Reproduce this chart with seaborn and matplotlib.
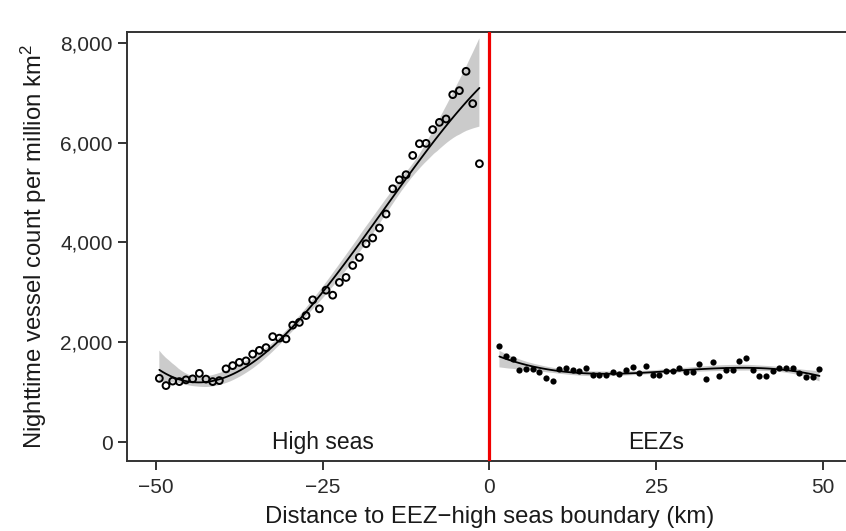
import numpy as np
import pandas as pd
import matplotlib
matplotlib.use('Agg')
import matplotlib.pyplot as plt
import seaborn as sns
from matplotlib.collections import PolyCollection
from matplotlib.ticker import FuncFormatter

# Centres des classes de distance (km), de part et d'autre de la frontière
high_km = np.arange(-49.5, -1.0, 1.0)
eez_km = np.arange(1.5, 50.0, 1.0)

# Comptages nocturnes (par million de km2)
high_counts = [1280, 1135, 1225, 1215, 1250, 1270, 1380, 1265, 1215, 1235,
               1470, 1535, 1600, 1630, 1765, 1840, 1895, 2115, 2085, 2070,
               2345, 2400, 2537, 2852, 2672, 3045, 2945, 3200, 3300, 3540,
               3700, 3975, 4090, 4290, 4570, 5075, 5255, 5357, 5743, 5978,
               5985, 6260, 6405, 6473, 6960, 7040, 7427, 6780, 5577]
eez_counts = [1930, 1736, 1663, 1449, 1469, 1469, 1415, 1295, 1228, 1469,
              1496, 1449, 1435, 1496, 1349, 1349, 1349, 1402, 1362, 1449,
              1502, 1395, 1536, 1349, 1349, 1429, 1429, 1496, 1415, 1415,
              1569, 1262, 1603, 1335, 1449, 1449, 1629, 1696, 1449, 1335,
              1335, 1435, 1496, 1482, 1482, 1395, 1315, 1315, 1462]

zone_labels = ['High seas', 'EEZs']
zone_label_x = [-25, 25]

high_df = pd.DataFrame({'distance': high_km, 'count': high_counts})
eez_df = pd.DataFrame({'distance': eez_km, 'count': eez_counts})

sns.set_theme(style='ticks')
plt.rcParams['font.family'] = ['Liberation Sans', 'DejaVu Sans']
plt.rcParams['mathtext.default'] = 'regular'

fig = plt.figure(figsize=(8.46, 5.31), dpi=100)
ax = fig.add_axes([0.1505, 0.1318, 0.856, 0.8085])

# Ajustements polynomiaux avec intervalle de confiance
sns.regplot(data=high_df, x='distance', y='count', order=3, scatter=False,
            color='black', line_kws={'lw': 1.3}, seed=3, ax=ax)
sns.regplot(data=eez_df, x='distance', y='count', order=3, scatter=False,
            color='black', line_kws={'lw': 1.3}, seed=3, ax=ax)
for coll in ax.collections:
    if isinstance(coll, PolyCollection):
        coll.set_facecolor('#999999')
        coll.set_alpha(0.5)
        coll.set_edgecolor('none')

# Points
ax.scatter(high_km, high_counts, s=24, facecolors='none', edgecolors='black',
           linewidths=1.4, zorder=3)
ax.scatter(eez_km, eez_counts, s=20, color='black', linewidths=0, zorder=3)

# Frontière ZEE / haute mer
ax.axvline(0, color='#f00000', lw=2.3, zorder=4)

for lab, xx in zip(zone_labels, zone_label_x):
    ax.text(xx, 0, lab, ha='center', va='center', fontsize=16.5, color='#1a1a1a')

ax.set_xlim(-54.3, 54.3)
ax.set_ylim(-375, 8220)
ax.set_xticks([-50, -25, 0, 25, 50])
ax.set_yticks([0, 2000, 4000, 6000, 8000])
ax.yaxis.set_major_formatter(FuncFormatter(lambda v, p: f'{int(v):,}'))

ax.set_xlabel('Distance to EEZ\u2212high seas boundary (km)', fontsize=17.2,
              color='#1a1a1a', labelpad=6.5)
ax.set_ylabel('Nighttime vessel count per million km$^2$', fontsize=17.2,
              color='#1a1a1a', labelpad=8)

ax.tick_params(axis='x', pad=6)
ax.tick_params(axis='y', pad=4)
ax.tick_params(axis='both', length=6.5, width=1.4, color='#333333',
               labelsize=15, labelcolor='#2a2a2a')
for side in ['left', 'top', 'bottom', 'right']:
    ax.spines[side].set_visible(True)
    ax.spines[side].set_linewidth(1.4)
    ax.spines[side].set_color('#333333')

fig.savefig('out.png', dpi=100)
